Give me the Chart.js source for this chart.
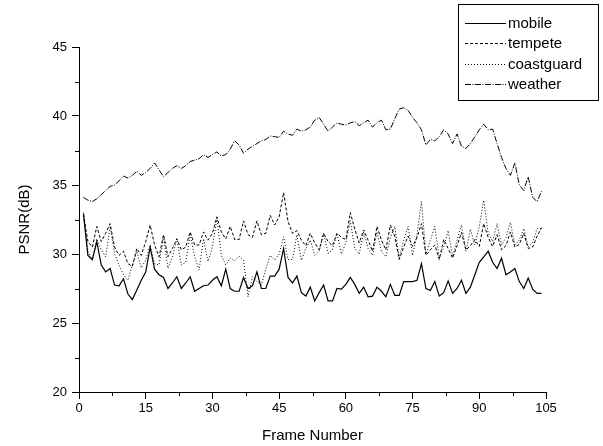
<!DOCTYPE html>
<html>
<head>
<meta charset="utf-8">
<script src="https://cdn.jsdelivr.net/npm/chart.js@4"></script>
<style>
  html, body { margin: 0; padding: 0; background: #fff; }
</style>
</head>
<body>
<canvas id="psnrChart" width="603" height="446"></canvas>
<script>
// frame index (x)
const frames = [
  1, 2, 3, 4, 5, 6, 7, 8, 9, 10, 11, 12, 13, 14, 15, 16, 17, 18, 19, 20,
  21, 22, 23, 24, 25, 26, 27, 28, 29, 30, 31, 32, 33, 34, 35, 36, 37, 38, 39, 40,
  41, 42, 43, 44, 45, 46, 47, 48, 49, 50, 51, 52, 53, 54, 55, 56, 57, 58, 59, 60,
  61, 62, 63, 64, 65, 66, 67, 68, 69, 70, 71, 72, 73, 74, 75, 76, 77, 78, 79, 80,
  81, 82, 83, 84, 85, 86, 87, 88, 89, 90, 91, 92, 93, 94, 95, 96, 97, 98, 99, 100,
  101, 102, 103, 104
];

// PSNR (dB) per sequence
const mobile = [
  32.9, 29.9, 29.6, 30.9, 29.2, 28.7, 28.95, 27.75, 27.7, 28.2,
  27.1, 26.7, 27.4, 28.1, 28.7, 30.5, 28.9, 28.5, 28.3, 27.5,
  27.9, 28.35, 27.5, 27.9, 28.35, 27.3, 27.5, 27.7, 27.75, 28.1,
  28.35, 27.7, 28.9, 27.5, 27.3, 27.3, 28.3, 27.5, 27.7, 28.7,
  27.5, 27.5, 28.4, 28.4, 28.9, 30.4, 28.3, 27.9, 28.4, 27.2,
  26.95, 27.6, 26.6, 27.2, 27.75, 26.6, 26.6, 27.5, 27.45, 27.8,
  28.3, 27.8, 27.15, 27.6, 26.9, 26.95, 27.6, 27.3, 26.9, 27.8,
  27.0, 27.0, 28.0, 28.0, 28.0, 28.1, 29.3, 27.5, 27.35, 28.0,
  26.95, 27.2, 28.05, 27.15, 27.5, 28.1, 27.15, 27.6, 28.5, 29.4,
  29.8, 30.2, 29.4, 28.95, 29.7, 28.5, 28.7, 28.95, 28.0, 27.5,
  28.25, 27.45, 27.15, 27.15
];
const tempete = [
  32.9, 30.9, 30.5, 32.0, 30.9, 31.5, 32.2, 30.5, 29.9, 30.2,
  29.3, 29.1, 30.4, 29.9, 30.9, 32.1, 30.65, 29.8, 31.4, 29.8,
  30.4, 31.1, 30.3, 30.5, 31.6, 30.65, 30.65, 31.6, 31.0, 31.5,
  32.7, 31.6, 31.1, 32.0, 31.05, 31.05, 32.4, 31.4, 31.2, 32.4,
  31.4, 31.5, 32.8, 32.1, 32.7, 34.45, 32.35, 31.5, 31.7, 31.0,
  30.6, 31.5, 30.8, 30.3, 31.5, 30.9, 30.6, 31.5, 31.2, 31.05,
  33.0, 31.8, 30.8, 31.75, 31.0, 30.2, 32.0, 31.0, 30.3, 32.1,
  31.3, 29.6, 30.5, 31.3, 30.55, 31.2, 32.2, 29.9, 30.3, 30.65,
  29.6, 31.05, 30.4, 29.7, 30.6, 31.55, 30.3, 30.6, 31.05, 30.55,
  32.2, 31.2, 30.55, 31.4, 30.3, 30.6, 31.6, 30.5, 30.7, 31.5,
  30.4, 30.5, 31.3, 31.9
];
const coastguard = [
  33.0, 30.2, 29.55, 31.1, 30.3, 29.8, 32.0, 30.0, 29.2, 28.5,
  28.1, 29.2, 30.2, 29.0, 29.55, 30.65, 29.3, 29.2, 31.25, 28.95,
  29.8, 31.1, 29.2, 29.4, 31.4, 29.8, 28.85, 31.1, 29.45, 30.5,
  32.6, 29.9, 29.2, 29.7, 29.5, 29.85, 29.55, 26.9, 28.35, 28.0,
  27.75, 28.9, 29.9, 29.55, 30.0, 31.25, 29.6, 29.6, 31.4, 29.55,
  30.4, 31.0, 29.9, 30.2, 31.5, 30.05, 30.3, 31.5, 30.0, 30.8,
  32.4, 30.4, 30.0, 31.6, 30.4, 29.9, 31.6, 30.2, 29.8, 31.2,
  32.0, 29.7, 31.0, 32.0, 29.9, 31.4, 33.8, 30.0, 31.0, 32.0,
  29.7, 30.5, 31.7, 29.8, 31.0, 32.1, 30.2, 31.8, 30.65, 32.0,
  33.9, 31.5, 30.9, 32.2, 30.65, 31.2, 32.3, 30.65, 31.0, 31.85,
  30.5, 30.8, 31.85, 31.85
];
const weather = [
  34.1, 33.9, 33.8, 34.0, 34.3, 34.6, 34.9, 35.0, 35.3, 35.65,
  35.5, 35.7, 36.0, 35.7, 35.9, 36.2, 36.6, 36.1, 35.6, 35.9,
  36.2, 36.4, 36.2, 36.4, 36.7, 36.8, 36.9, 37.2, 37.0, 37.2,
  37.4, 37.1, 37.2, 37.6, 38.2, 37.9, 37.3, 37.6, 37.8, 38.0,
  38.2, 38.3, 38.55, 38.5, 38.45, 38.9, 38.7, 38.6, 39.05, 38.9,
  39.0, 39.2, 39.7, 39.9, 39.4, 38.9, 39.2, 39.5, 39.4, 39.35,
  39.5, 39.6, 39.3, 39.5, 39.7, 39.2, 39.5, 39.7, 39.0, 39.05,
  39.8, 40.5, 40.6, 40.4, 39.9, 39.5, 39.0, 37.9, 38.3, 38.2,
  38.5, 39.0, 38.7, 38.0, 38.7, 37.8, 37.65, 38.0, 38.5, 39.0,
  39.4, 39.0, 39.05, 38.0, 37.0, 36.2, 35.7, 36.6, 35.0, 34.6,
  35.6, 34.1, 33.8, 34.55
];

const FONT = "'Liberation Sans', Arial, sans-serif";

function toPoints(vals) {
  return vals.map((v, i) => ({ x: frames[i], y: v }));
}

// short minor ticks half way between the labelled ones
const minorTicks = {
  id: "minorTicks",
  afterDraw(chart) {
    const { ctx, scales: { x, y } } = chart;
    ctx.save();
    ctx.strokeStyle = "#000";
    ctx.lineWidth = 1;
    ctx.beginPath();
    for (let v = 7.5; v < x.max; v += 15) {
      const px = Math.round(x.getPixelForValue(v)) + 0.5;
      ctx.moveTo(px, x.top);
      ctx.lineTo(px, x.top + 4);
    }
    for (let v = 22.5; v < y.max; v += 5) {
      const py = Math.round(y.getPixelForValue(v)) + 0.5;
      ctx.moveTo(y.right, py);
      ctx.lineTo(y.right - 4, py);
    }
    ctx.stroke();
    ctx.restore();
  }
};

// boxed legend in the top right corner
const boxLegend = {
  id: "boxLegend",
  afterDraw(chart) {
    const ctx = chart.ctx;
    ctx.save();
    ctx.fillStyle = "#fff";
    ctx.fillRect(458.5, 4.5, 140, 96);
    ctx.strokeStyle = "#000";
    ctx.lineWidth = 1;
    ctx.strokeRect(458.5, 4.5, 140, 96);
    ctx.font = "15px " + FONT;
    ctx.textBaseline = "middle";
    ctx.fillStyle = "#000";
    chart.data.datasets.forEach((ds, i) => {
      const yy = Math.round(23 + i * 20.3) + 0.5;
      ctx.setLineDash(ds.borderDash || []);
      ctx.lineWidth = ds.borderWidth;
      ctx.beginPath();
      ctx.moveTo(465, yy);
      ctx.lineTo(506, yy);
      ctx.stroke();
      ctx.setLineDash([]);
      ctx.fillText(ds.label, 508, yy);
    });
    ctx.restore();
  }
};

new Chart(document.getElementById("psnrChart"), {
  type: "line",
  data: {
    datasets: [
      { label: "mobile", data: toPoints(mobile), borderColor: "#000", borderWidth: 1.2, borderDash: [] },
      { label: "tempete", data: toPoints(tempete), borderColor: "#000", borderWidth: 1, borderDash: [3, 2] },
      { label: "coastguard", data: toPoints(coastguard), borderColor: "#000", borderWidth: 1, borderDash: [1, 2] },
      { label: "weather", data: toPoints(weather), borderColor: "#000", borderWidth: 1, borderDash: [6, 1.5, 1, 1.5] },
    ],
  },
  options: {
    responsive: false,
    animation: false,
    devicePixelRatio: 1,
    layout: { padding: { top: 47, right: 57, left: 0, bottom: 0 } },
    elements: { point: { radius: 0 }, line: { tension: 0, fill: false } },
    plugins: { legend: { display: false }, tooltip: { enabled: false } },
    scales: {
      x: {
        type: "linear",
        min: 0,
        max: 105,
        ticks: { stepSize: 15, color: "#000", font: { family: FONT, size: 13 }, padding: 2, maxRotation: 0 },
        grid: { drawOnChartArea: false, color: "#000", tickLength: 7 },
        border: { color: "#000", width: 1 },
        title: { display: true, text: "Frame Number", color: "#000", font: { family: FONT, size: 15 }, padding: { top: 0, bottom: 1 } },
        afterFit(scale) { scale.height = 54; },
      },
      y: {
        min: 20,
        max: 45,
        ticks: { stepSize: 5, color: "#000", font: { family: FONT, size: 13 }, padding: 5 },
        grid: { drawOnChartArea: false, color: "#000", tickLength: 7 },
        border: { color: "#000", width: 1 },
        title: { display: true, text: "PSNR(dB)", color: "#000", font: { family: FONT, size: 15 }, padding: { top: 16, bottom: 0 } },
        afterFit(scale) { scale.width = 79; },
      },
    },
  },
  plugins: [minorTicks, boxLegend],
});
</script>
</body>
</html>
